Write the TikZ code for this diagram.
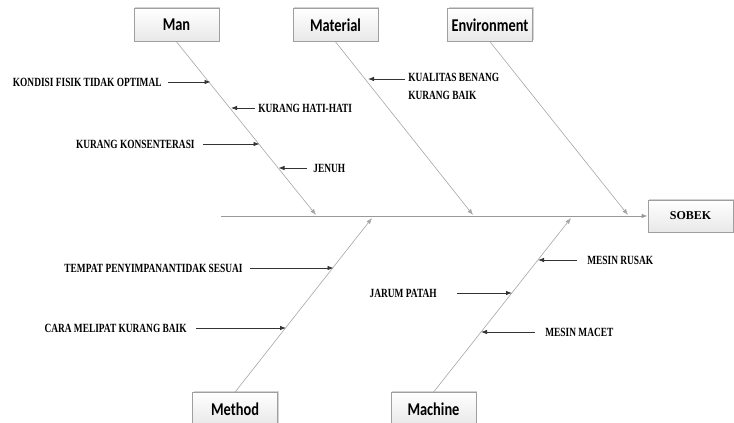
\documentclass[tikz,border=0pt]{standalone}
\usepackage{fontspec}
\usetikzlibrary{arrows.meta,shadows}
\newfontfamily\boxfont[FakeStretch=0.8]{Carlito Bold}
\newfontfamily\causefont[FakeStretch=0.75]{Liberation Serif Bold}
\newfontfamily\effectfont{Liberation Serif Bold}
\tikzset{every picture/.style={line width=0.75pt}}
\tikzset{
  catbox/.style={draw=gray!75, line width=0.6pt, top color=white, bottom color=gray!18,
    minimum width=85pt, minimum height=33pt, inner sep=0pt,
    drop shadow={opacity=0.35, shadow xshift=1.2pt, shadow yshift=1.2pt},
    font=\boxfont\fontsize{18}{20}\selectfont},
  bone/.style={draw=gray!70, line width=0.6pt, -{Latex[length=6pt,width=4.5pt]}},
  cause/.style={draw=black!80, line width=0.8pt, -{Latex[length=6pt,width=4.5pt]}},
  causetext/.style={inner sep=0pt, font=\causefont\fontsize{12.5}{18}\selectfont}
}

\begin{document}
\begin{tikzpicture}[x=1pt,y=1pt,yscale=-1,xscale=1]
\useasboundingbox (0,0) rectangle (734,423);

% Categories
\node [catbox] (man) at (176.5,25) {Man};
\node [catbox] (material) at (335.5,25) {Material};
\node [catbox] (environment) at (490,25) {Environment};
\node [catbox] (method) at (235,409) {Method};
\node [catbox] (machine) at (433.5,409) {Machine};
% Effect
\node [catbox, minimum height=32pt, font=\effectfont\fontsize{12}{14}\selectfont] (sobek) at (690.5,216) {SOBEK};

% Spine
\coordinate (tail) at (221,216);
\draw [draw=gray!80, line width=1pt, -{Latex[length=6pt,width=4.5pt]}] (tail) -- (sobek.west);

% Bones
\coordinate (manend) at (316,215);
\coordinate (materialend) at (473,215);
\coordinate (environmentend) at (628,215);
\coordinate (methodend) at (372,218);
\coordinate (machineend) at (571,218);
\draw [bone] (man.south) -- (manend);
\draw [bone] (material.south) -- (materialend);
\draw [bone] (environment.south) -- (environmentend);
\draw [bone] (method.north) -- (methodend);
\draw [bone] (machine.north) -- (machineend);

% Man
\node [causetext, anchor=east] (kondisi) at (162,82) {KONDISI FISIK TIDAK OPTIMAL};
\coordinate (kondisit) at (210.5,82);
\draw [cause, shorten <=6pt] (kondisi.east) -- (kondisit);
\node [causetext, anchor=west] (hati) at (258,108) {KURANG HATI-HATI};
\coordinate (hatit) at (231,108);
\draw [cause, shorten <=3pt] (hati.west) -- (hatit);
\node [causetext, anchor=east] (konsen) at (195,144) {KURANG KONSENTERASI};
\coordinate (konsent) at (259.5,144);
\draw [cause, shorten <=8pt] (konsen.east) -- (konsent);
\node [causetext, anchor=west] (jenuh) at (313,168) {JENUH};
\coordinate (jenuht) at (278.5,168);
\draw [cause, shorten <=6pt] (jenuh.west) -- (jenuht);

% Material
\node [causetext, anchor=north west, align=left] (benang) at (408,73) {KUALITAS BENANG\\KURANG BAIK};
\coordinate (benangs) at (405,79);
\coordinate (benangt) at (368,79);
\draw [cause] (benangs) -- (benangt);

% Method
\node [causetext, anchor=east] (tempat) at (243,268) {TEMPAT PENYIMPANANTIDAK SESUAI};
\coordinate (tempatt) at (333.5,268);
\draw [cause, shorten <=7pt] (tempat.east) -- (tempatt);
\node [causetext, anchor=east] (cara) at (187,328) {CARA MELIPAT KURANG BAIK};
\coordinate (carat) at (286,328);
\draw [cause, shorten <=9pt] (cara.east) -- (carat);

% Machine
\node [causetext, anchor=west] (rusak) at (587,260) {MESIN RUSAK};
\coordinate (rusakt) at (538,260);
\draw [cause, shorten <=10pt] (rusak.west) -- (rusakt);
\node [causetext, anchor=east] (jarum) at (437,293) {JARUM PATAH};
\coordinate (jarumt) at (512,293);
\draw [cause, shorten <=20pt] (jarum.east) -- (jarumt);
\node [causetext, anchor=west] (macet) at (545,332) {MESIN MACET};
\coordinate (macett) at (481,332);
\draw [cause, shorten <=10pt] (macet.west) -- (macett);

\end{tikzpicture}
\end{document}
